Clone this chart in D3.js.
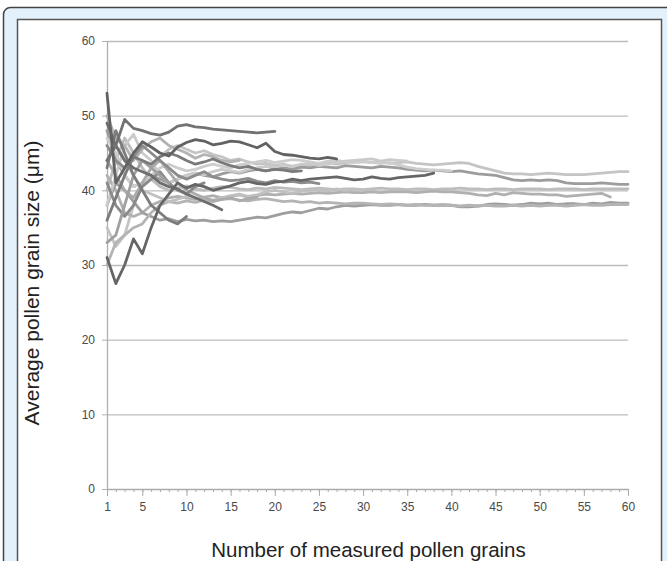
<!DOCTYPE html>
<html>
<head>
<meta charset="utf-8">
<script src="https://cdn.jsdelivr.net/npm/d3@7"></script>
<style>
	body { margin: 0; background: #fff; }
	text { font-family: "Liberation Sans", Arial, sans-serif; }
</style>
</head>
<body>
<svg id="chart" width="667" height="561"></svg>
<script>
// running averages, one array per sample, value at n = 1, 2, 3 ...
const s01 = [44, 46, 49.5, 48.3, 48, 47.6, 47.4, 47.8, 48.6, 48.8, 48.5, 48.4, 48.2, 48.1, 48, 47.9, 47.8, 47.7, 47.8, 47.9];
const s02 = [53, 41, 43, 45, 46.5, 45.8, 45, 44.6, 45.8, 46.4, 46.8, 46.6, 46.1, 46.3, 46.6, 46.5, 46.1, 45.7, 46.3, 45.2, 44.8, 44.7, 44.5, 44.3, 44.2, 44.4, 44.2];
const s03 = [31, 27.5, 30, 33.5, 31.5, 35, 38, 39.5, 41, 40.3, 40.8, 40.5, 40, 40.3, 40.6, 41, 41.2, 40.9, 40.8, 41.1, 41.2, 41.5, 41.3, 41.5, 41.6, 41.7, 41.8, 41.6, 41.4, 41.5, 41.8, 41.6, 41.5, 41.7, 41.8, 41.9, 42, 42.3];
const s04 = [35, 32.5, 34, 38, 41, 43, 44.5, 45.5, 46, 45.5, 45, 45.3, 44.8, 44.5, 44, 44.2, 43.8, 43.5, 43.6, 43.3, 43.5, 43.2, 43.4, 43.3, 43.5, 43.6, 43.5, 43.7, 43.8, 43.9, 43.7, 43.8, 43.6, 43.7, 43.8, 43.6, 43.5, 43.4, 43.5, 43.6, 43.7, 43.6, 43.2, 42.9, 42.6, 42.3, 42.2, 42.2, 42.1, 42.2, 42.3, 42.2, 42.1, 42.1, 42.1, 42.2, 42.3, 42.4, 42.5, 42.5];
const s05 = [48, 44, 42, 40.5, 41, 42, 41.5, 41, 41.5, 42, 42.3, 42, 41.8, 42.2, 42.5, 42.3, 42.6, 42.8, 42.6, 42.9, 43, 42.8, 43.1, 43, 43.2, 43.1, 43, 43.3, 43.2, 43.1, 43, 43.2, 43.1, 43, 42.8, 42.7, 42.6, 42.7, 42.6, 42.5, 42.6, 42.4, 42.2, 42.1, 42, 41.7, 41.4, 41.3, 41.4, 41.3, 41.4, 41.3, 41, 40.9, 40.9, 40.9, 41, 40.9, 40.8, 40.8];
const s06 = [40, 44, 47, 45, 43, 41.5, 40.5, 40, 40.3, 40.6, 40.2, 40, 40.3, 40.5, 40.4, 40.2, 40.1, 40.3, 40.2, 40.4, 40.3, 40.2, 40.1, 40.2, 40.3, 40.2, 40.1, 40.2, 40.2, 40.1, 40.2, 40.3, 40.2, 40.2, 40.1, 40.2, 40.2, 40.1, 40.2, 40.2, 40.3, 40.2, 40.2, 40.1, 40.2, 40.2, 40.1, 40.2, 40.2, 40.2, 40.1, 40.2, 40.2, 40.2, 40.1, 40.2, 40.2, 40.2, 40.2, 40.2];
const s07 = [42, 40, 37, 36.5, 37, 38, 38.5, 39, 39.2, 39, 38.8, 39.1, 39.3, 39, 39.2, 39.4, 39.1, 39.3, 39.5, 39.4, 39.5, 39.6, 39.5, 39.6, 39.7, 39.6, 39.7, 39.8, 39.7, 39.7, 39.8, 39.7, 39.8, 39.8, 39.8, 39.7, 39.8, 39.9, 39.8, 39.8, 39.7, 39.6, 39.4, 39.3, 39.6, 39.4, 39.7, 39.6, 39.5, 39.5, 39.4, 39.4, 39.2, 39.3, 39.4, 39.5, 39.6, 39.1];
const s08 = [38, 41, 40, 38.5, 37, 36.5, 36, 36.2, 35.8, 36.1, 35.9, 36, 35.8, 35.9, 35.8, 36, 36.2, 36.4, 36.3, 36.6, 36.9, 37.1, 37, 37.3, 37.6, 37.5, 37.8, 38, 37.9, 38, 38.1, 38, 38, 38.1, 38, 38, 38.1, 38, 38, 38, 37.8, 37.8, 37.9, 38.1, 38.2, 38.1, 38, 38.1, 38.3, 38.2, 38.3, 38.1, 38.2, 38.2, 38.1, 38.3, 38.2, 38.4, 38.3, 38.3];
const s09 = [30, 33, 34, 35, 35.5, 37, 38, 38.5, 38.3, 38.6, 38.4, 38.7, 38.5, 38.8, 38.9, 38.7, 38.6, 38.8, 38.9, 38.7, 38.5, 38.6, 38.4, 38.5, 38.3, 38.4, 38.3, 38.2, 38.3, 38.3, 38.2, 38.1, 38.2, 38.1, 38, 38.1, 38, 38, 38.1, 38, 37.9, 38, 37.9, 38, 37.9, 37.9, 38, 37.9, 38, 37.9, 38, 38, 37.9, 38, 38.1, 38, 38, 38.1, 38.1, 38.1];
const s10 = [49, 46, 44, 43, 42.5, 42, 41, 40.5, 40.2, 39.5, 39, 38.5, 38, 37.4];
const s11 = [36, 39, 42, 44.5, 44, 43.5, 44.5, 45, 44.6, 44, 43.5, 43.8, 44.2, 43.7, 43.3, 43, 43.2, 42.8, 42.6, 42.8, 42.7, 42.5, 42.6];
const s12 = [47, 45, 42, 40.5, 41, 42, 43, 43.5, 43, 42.6, 42.8, 43.2, 43.5, 43.2, 43, 43.4, 43.6, 43.8, 44, 43.7, 43.9, 44.1, 44, 43.8, 43.6, 43.9, 44, 43.8, 43.7, 43.8, 43.7, 43.6, 43.7, 43.4, 43.1, 42.9, 42.8, 42.7, 42.7, 42.6];
const s13 = [41, 38, 36.5, 38, 40.5, 41.5, 42.5, 41, 40, 39.5, 40.5, 41];
const s14 = [44, 42, 40, 39, 41, 43, 44, 42.5, 41, 40, 39.5, 39, 38.6, 38.8, 39, 38.6, 38.9, 39.1];
const s15 = [46, 44, 43, 44.5, 46, 45, 44, 43, 42, 41.5, 42, 42.5, 41.8, 41.5, 41.3, 41.4, 41.6, 41.2, 41, 41.3, 41.1, 41.2, 41, 41.1, 40.9];
const s16 = [44, 46, 44, 42, 40, 39.5, 39, 38.5, 38.8, 39.2, 39, 38.9, 38.7, 39, 39.3, 39.5, 39.2, 39.4, 39.8, 40, 39.8, 39.6, 39.9, 40, 40.1, 39.9, 40.2, 40, 40.1, 40];
const s17 = [43, 48, 45, 42, 40, 38, 37, 36, 35.5, 36.5];
const s18 = [33, 34, 38, 42, 44, 43, 42, 41];
const s19 = [50, 47, 46, 44, 45.5, 46.5, 47, 46, 45.5, 45, 44.3, 44.8, 44.5, 44, 43.8, 44];
const s20 = [38, 42, 46, 47.5, 45, 44, 42, 41, 41.5, 42, 42.3, 42.1, 42.5, 42.8, 42.6, 42.4, 42.8, 43, 43.2, 43.1, 43.4, 43.2, 43.5, 43.6, 43.3, 43.5, 43.7, 43.9, 44, 44.1, 44.2, 43.9, 44.1, 44, 43.9];

const allSeries = [s04, s05, s06, s07, s08, s09, s12, s16, s20, s14, s19, s15, s13, s18, s11, s17, s10, s01, s02, s03];
const xTicks = [1, 5, 10, 15, 20, 25, 30, 35, 40, 45, 50, 55, 60];
const yTicks = [0, 10, 20, 30, 40, 50, 60];

// line shades, same order as allSeries
const shades = ["#c4c4c4", "#9c9c9c", "#bdbdbd", "#b0b0b0", "#9e9e9e", "#b4b4b4", "#cdcdcd", "#c0c0c0", "#cacaca", "#ababab",
	"#b2b2b2", "#8c8c8c", "#8a8a8a", "#a0a0a0", "#7a7a7a", "#7c7c7c", "#6e6e6e", "#727272", "#626262", "#666666"];

const svg = d3.select("svg#chart");
const margin = { top: 41, right: 39, bottom: 72, left: 107 };
const chartWidth = 667 - margin.left - margin.right;
const chartHeight = 561 - margin.top - margin.bottom;

// frame
svg.append("rect").attr("x", 3.5).attr("y", 7.5).attr("width", 700).attr("height", 600)
	.attr("rx", 7).attr("fill", "#e2f1fb").attr("stroke", "#444").attr("stroke-width", 1.5);
svg.append("rect").attr("x", 17.5).attr("y", 19.5).attr("width", 644).attr("height", 600)
	.attr("fill", "#fff").attr("stroke", "#555").attr("stroke-width", 1.5);

const xScale = d3.scaleLinear([1, 60], [0, chartWidth]);
const yScale = d3.scaleLinear([0, 60], [chartHeight, 0]);

let annotations = svg.append("g").attr("transform", `translate(${margin.left},${margin.top})`);
let chartArea = svg.append("g").attr("transform", `translate(${margin.left},${margin.top})`);

// horizontal grid
let grid = annotations.append("g")
	.call(d3.axisLeft(yScale).tickValues(yTicks.filter((d) => d > 0)).tickSize(-chartWidth).tickFormat(""));
grid.select(".domain").remove();
grid.selectAll("line").attr("stroke", "#bdbdbd").attr("stroke-width", 1.3);

// y axis
let yAxis = annotations.append("g")
	.call(d3.axisLeft(yScale).tickValues(yTicks).tickSize(5).tickPadding(7).tickSizeOuter(0));
yAxis.select(".domain").attr("stroke", "#b0b0b0").attr("stroke-width", 1.3);
yAxis.selectAll("line").attr("stroke", "#b0b0b0");
yAxis.selectAll("text").attr("fill", "#4a4a4a").attr("font-size", 12).attr("font-family", "Liberation Sans, Arial, sans-serif");

// x axis: minor every grain, major on labelled ticks
let xMinor = annotations.append("g").attr("transform", `translate(0,${chartHeight})`)
	.call(d3.axisBottom(xScale).tickValues(d3.range(1, 61)).tickSize(3).tickFormat("").tickSizeOuter(0));
xMinor.select(".domain").attr("stroke", "#aaa").attr("stroke-width", 1.3);
xMinor.selectAll("line").attr("stroke", "#aaa");
let xAxis = annotations.append("g").attr("transform", `translate(0,${chartHeight})`)
	.call(d3.axisBottom(xScale).tickValues(xTicks).tickSize(7).tickPadding(6).tickSizeOuter(0));
xAxis.select(".domain").remove();
xAxis.selectAll("line").attr("stroke", "#aaa");
xAxis.selectAll("text").attr("fill", "#4a4a4a").attr("font-size", 12).attr("font-family", "Liberation Sans, Arial, sans-serif");

// lines
let gen = d3.line((d, i) => xScale(i + 1), (d) => yScale(d));
chartArea.selectAll("path.line")
	.data(allSeries)
	.join("path")
	.attr("class", "line")
	.attr("d", gen)
	.attr("fill", "none")
	.attr("stroke", (d, i) => shades[i])
	.attr("stroke-width", 2.8)
	.attr("stroke-linejoin", "round")
	.attr("stroke-linecap", "round");

// titles
svg.append("text")
	.attr("x", margin.left + chartWidth / 2 + 1)
	.attr("y", 557)
	.attr("text-anchor", "middle")
	.attr("font-size", 20.5)
	.attr("fill", "#222")
	.text("Number of measured pollen grains");
svg.append("text")
	.attr("transform", `translate(39,${margin.top + chartHeight / 2 + 18}) rotate(-90)`)
	.attr("text-anchor", "middle")
	.attr("font-size", 21)
	.attr("fill", "#222")
	.text("Average pollen grain size (μm)");
</script>
</body>
</html>
